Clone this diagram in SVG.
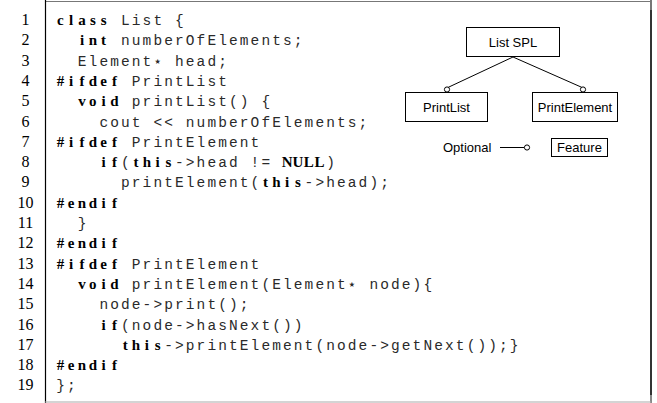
<svg xmlns="http://www.w3.org/2000/svg" width="657" height="403" viewBox="0 0 657 403">
<style>
.ln{font-family:"Liberation Serif","Times New Roman",serif;font-size:16px;text-anchor:middle;fill:#000}
.kw{font-family:"Liberation Serif","Times New Roman",serif;font-size:15px;font-weight:bold;text-anchor:middle;fill:#000}
.mo{font-family:"Liberation Mono","Courier New",monospace;font-size:14.5px;letter-spacing:2.1px;white-space:pre;fill:#2a2a2a}
.st{font-family:"DejaVu Sans",sans-serif;font-size:14px;text-anchor:middle;fill:#2a2a2a}
.lb{font-family:"Liberation Sans",Arial,sans-serif;font-size:13px;fill:#000}
.box{fill:#fff;stroke:#000;stroke-width:1}
.edge{stroke:#000;stroke-width:1;fill:none}
.dot{fill:#fff;stroke:#000;stroke-width:1}
</style>
<rect width="657" height="403" fill="#fff"/>
<g id="frame">
<line x1="45" y1="1.5" x2="651" y2="1.5" stroke="#777" stroke-width="1.2"/>
<line x1="45.5" y1="0" x2="45.5" y2="403" stroke="#000" stroke-width="1.2"/>
<line x1="651" y1="0" x2="651" y2="10" stroke="#777" stroke-width="2"/>
<line x1="651" y1="10" x2="651" y2="395" stroke="#333" stroke-width="2"/>
<line x1="651" y1="395" x2="651" y2="403" stroke="#888" stroke-width="2"/>
<line x1="45" y1="402" x2="651" y2="402" stroke="#aaa" stroke-width="1.2"/>
</g>
<g id="line-numbers">
<text class="ln" x="25.5" y="25">1</text>
<text class="ln" x="25.5" y="45.3">2</text>
<text class="ln" x="25.5" y="65.6">3</text>
<text class="ln" x="25.5" y="85.9">4</text>
<text class="ln" x="25.5" y="106.2">5</text>
<text class="ln" x="25.5" y="126.5">6</text>
<text class="ln" x="25.5" y="146.8">7</text>
<text class="ln" x="25.5" y="167.1">8</text>
<text class="ln" x="25.5" y="187.4">9</text>
<text class="ln" x="25.5" y="207.7">10</text>
<text class="ln" x="25.5" y="228">11</text>
<text class="ln" x="25.5" y="248.3">12</text>
<text class="ln" x="25.5" y="268.6">13</text>
<text class="ln" x="25.5" y="288.9">14</text>
<text class="ln" x="25.5" y="309.2">15</text>
<text class="ln" x="25.5" y="329.5">16</text>
<text class="ln" x="25.5" y="349.8">17</text>
<text class="ln" x="25.5" y="370.1">18</text>
<text class="ln" x="25.5" y="390.4">19</text>
</g>
<g id="code">
<text class="kw" x="60.4 71.2 82 92.8 103.6" y="25">class</text>
<text class="mo" x="121" y="25">List {</text>
<text class="kw" x="82 92.8 103.6" y="45.3">int</text>
<text class="mo" x="121" y="45.3">numberOfElements;</text>
<text class="mo" x="77.8" y="65.6">Element</text>
<text class="st" x="157.6" y="65.6">⋆</text>
<text class="mo" x="175" y="65.6">head;</text>
<text class="kw" x="60.4 71.2 82 92.8 103.6 114.4" y="85.9">#ifdef</text>
<text class="mo" x="131.8" y="85.9">PrintList</text>
<text class="kw" x="82 92.8 103.6 114.4" y="106.2">void</text>
<text class="mo" x="131.8" y="106.2">printList() {</text>
<text class="mo" x="99.4" y="126.5">cout &lt;&lt; numberOfElements;</text>
<text class="kw" x="60.4 71.2 82 92.8 103.6 114.4" y="146.8">#ifdef</text>
<text class="mo" x="131.8" y="146.8">PrintElement</text>
<text class="kw" x="103.6 114.4" y="167.1">if</text>
<text class="mo" x="121" y="167.1">(</text>
<text class="kw" x="136 146.8 157.6 168.4" y="167.1">this</text>
<text class="mo" x="175" y="167.1">-&gt;head != </text>
<text class="kw" x="287.2 298 308.8 319.6" y="167.1">NULL</text>
<text class="mo" x="326.2" y="167.1">)</text>
<text class="mo" x="121" y="187.4">printElement(</text>
<text class="kw" x="265.6 276.4 287.2 298" y="187.4">this</text>
<text class="mo" x="304.6" y="187.4">-&gt;head);</text>
<text class="kw" x="60.4 71.2 82 92.8 103.6 114.4" y="207.7">#endif</text>
<text class="mo" x="77.8" y="228">}</text>
<text class="kw" x="60.4 71.2 82 92.8 103.6 114.4" y="248.3">#endif</text>
<text class="kw" x="60.4 71.2 82 92.8 103.6 114.4" y="268.6">#ifdef</text>
<text class="mo" x="131.8" y="268.6">PrintElement</text>
<text class="kw" x="82 92.8 103.6 114.4" y="288.9">void</text>
<text class="mo" x="131.8" y="288.9">printElement(Element</text>
<text class="st" x="352" y="288.9">⋆</text>
<text class="mo" x="369.4" y="288.9">node){</text>
<text class="mo" x="99.4" y="309.2">node-&gt;print();</text>
<text class="kw" x="103.6 114.4" y="329.5">if</text>
<text class="mo" x="121" y="329.5">(node-&gt;hasNext())</text>
<text class="kw" x="125.2 136 146.8 157.6" y="349.8">this</text>
<text class="mo" x="164.2" y="349.8">-&gt;printElement(node-&gt;getNext());}</text>
<text class="kw" x="60.4 71.2 82 92.8 103.6 114.4" y="370.1">#endif</text>
<text class="mo" x="56.2" y="390.4">};</text>
</g>
<g id="connectors">
<line class="edge" x1="513" y1="57" x2="448.3" y2="87.3"/>
<line class="edge" x1="513" y1="57" x2="581.7" y2="87.3"/>
<line class="edge" x1="500" y1="147.5" x2="524.5" y2="147.5"/>
</g>
<g id="list-spl">
<rect class="box" x="466.5" y="27.5" width="93" height="29"/>
<text class="lb" x="513" y="46.5" text-anchor="middle">List SPL</text>
</g>
<g id="printlist">
<rect class="box" x="405.5" y="92.5" width="82" height="29"/>
<text class="lb" x="446.5" y="111.5" text-anchor="middle">PrintList</text>
<circle class="dot" cx="447" cy="89.5" r="2.6"/>
</g>
<g id="printelement">
<rect class="box" x="532.5" y="92.5" width="85" height="29"/>
<text class="lb" x="575" y="111.5" text-anchor="middle">PrintElement</text>
<circle class="dot" cx="583" cy="89.5" r="2.6"/>
</g>
<g id="legend">
<text class="lb" x="443" y="152">Optional</text>
<circle class="dot" cx="527" cy="147.5" r="2.6"/>
<rect class="box" x="551.5" y="138.5" width="56" height="18"/>
<text class="lb" x="579.5" y="152" text-anchor="middle">Feature</text>
</g>
</svg>
